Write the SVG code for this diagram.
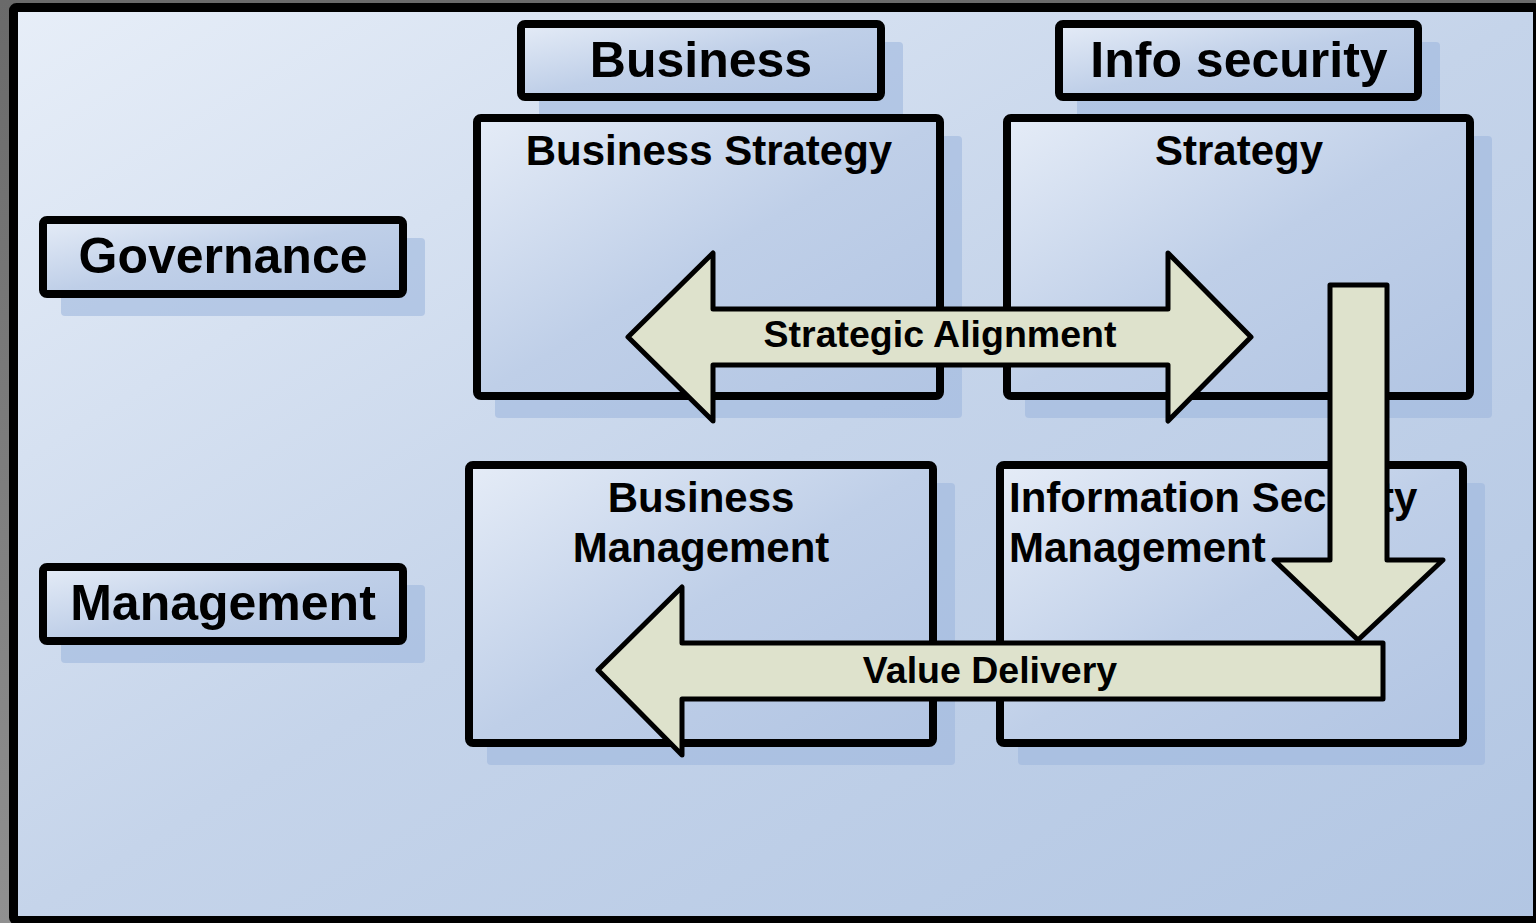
<svg xmlns="http://www.w3.org/2000/svg" width="1536" height="923" viewBox="0 0 1536 923">
<defs>
<linearGradient id="gray" x1="0" y1="0" x2="0" y2="1"><stop offset="0" stop-color="#6a6a6a"/><stop offset="1" stop-color="#909090"/></linearGradient>
<linearGradient id="bg" x1="0" y1="0" x2="1" y2="1"><stop offset="0" stop-color="#e7eef8"/><stop offset="0.5" stop-color="#c5d4ea"/><stop offset="1" stop-color="#b2c6e3"/></linearGradient>
<linearGradient id="box" x1="0" y1="0" x2="1" y2="1"><stop offset="0" stop-color="#e5ecf7"/><stop offset="0.5" stop-color="#bfcfe8"/><stop offset="1" stop-color="#b2c5e3"/></linearGradient>
<style>
.box{fill:url(#box);stroke:#000;stroke-width:8}
.sh{fill:#9fb7de;opacity:0.6}
.t{font-family:"Liberation Sans",Arial,sans-serif;font-weight:bold;fill:#000}
.arr{fill:#dee2cc;stroke:#000;stroke-width:5;stroke-linejoin:round}
</style>
</defs>
<rect x="0" y="0" width="1536" height="923" fill="url(#gray)"/>
<rect x="13.5" y="7.5" width="1524" height="913" rx="3" fill="url(#bg)" stroke="#000" stroke-width="9"/>

<g id="business">
<rect class="sh" x="539" y="42" width="364" height="77" rx="4"/>
<rect class="box" x="521" y="24" width="360" height="73" rx="4"/>
<text class="t" x="701" y="77" font-size="50" text-anchor="middle">Business</text>
</g>
<g id="info-security">
<rect class="sh" x="1077" y="42" width="363" height="77" rx="4"/>
<rect class="box" x="1059" y="24" width="359" height="73" rx="4"/>
<text class="t" x="1239" y="77" font-size="50" text-anchor="middle">Info security</text>
</g>
<g id="governance">
<rect class="sh" x="61" y="238" width="364" height="78" rx="4"/>
<rect class="box" x="43" y="220" width="360" height="74" rx="4"/>
<text class="t" x="223" y="273" font-size="50" text-anchor="middle">Governance</text>
</g>
<g id="management">
<rect class="sh" x="61" y="585" width="364" height="78" rx="4"/>
<rect class="box" x="43" y="567" width="360" height="74" rx="4"/>
<text class="t" x="223" y="620" font-size="50" text-anchor="middle">Management</text>
</g>
<g id="business-strategy">
<rect class="sh" x="495" y="136" width="467" height="282" rx="4"/>
<rect class="box" x="477" y="118" width="463" height="278" rx="4"/>
<text class="t" x="709" y="165" font-size="42" text-anchor="middle">Business Strategy</text>
</g>
<g id="strategy">
<rect class="sh" x="1025" y="136" width="467" height="282" rx="4"/>
<rect class="box" x="1007" y="118" width="463" height="278" rx="4"/>
<text class="t" x="1239" y="165" font-size="42" text-anchor="middle">Strategy</text>
</g>
<g id="business-management">
<rect class="sh" x="487" y="483" width="468" height="282" rx="4"/>
<rect class="box" x="469" y="465" width="464" height="278" rx="4"/>
<text class="t" x="701" y="512" font-size="42" text-anchor="middle">Business</text>
<text class="t" x="701" y="562" font-size="42" text-anchor="middle">Management</text>
</g>
<g id="information-security-management">
<rect class="sh" x="1018" y="483" width="467" height="282" rx="4"/>
<rect class="box" x="1000" y="465" width="463" height="278" rx="4"/>
<text class="t" x="1009" y="512" font-size="42">Information Security</text>
<text class="t" x="1009" y="562" font-size="42">Management</text>
</g>

<g id="connectors">
<g id="strategic-alignment">
<path class="arr" d="M628,337 L713,253 L713,309 L1168,309 L1168,253 L1251,337 L1168,421 L1168,365 L713,365 L713,421 Z"/>
<text class="t" x="940" y="347" font-size="37.5" text-anchor="middle">Strategic Alignment</text>
</g>
<g id="down-arrow">
<path class="arr" d="M1330,285 L1387,285 L1387,560 L1443,560 L1358,640 L1274,560 L1330,560 Z"/>
</g>
<g id="value-delivery">
<path class="arr" d="M598,670 L682,587 L682,643 L1383,643 L1383,699 L682,699 L682,755 Z"/>
<text class="t" x="990" y="683" font-size="37.5" text-anchor="middle">Value Delivery</text>
</g>
</g>
</svg>
